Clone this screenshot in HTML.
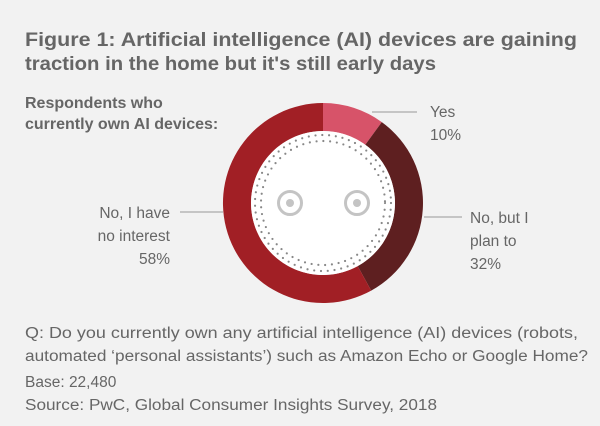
<!DOCTYPE html>
<html><head><meta charset="utf-8"><style>
body{margin:0;background:#f2f2f2}
svg{display:block}
text{font-family:"Liberation Sans",Arial,sans-serif;fill:#666}
</style></head><body>
<svg width="600" height="426" viewBox="0 0 600 426">
<rect width="600" height="426" fill="#f2f2f2"/>
<text x="25" y="46" font-size="19.5" font-weight="bold" textLength="552" lengthAdjust="spacingAndGlyphs">Figure 1: Artificial intelligence (AI) devices are gaining</text>
<text x="25" y="70" font-size="19.5" font-weight="bold" textLength="411" lengthAdjust="spacingAndGlyphs">traction in the home but it's still early days</text>
<text x="25" y="108" font-size="16" font-weight="bold">Respondents who</text>
<text x="25" y="129" font-size="16" font-weight="bold">currently own AI devices:</text>
<g transform="translate(323,203)">
<path d="M0,-100 A100,100 0 0 1 58.8,-80.9 L42.3,-58.2 A72,72 0 0 0 0,-72 Z" fill="#d75369"/>
<path d="M58.8,-80.9 A100,100 0 0 1 48.2,87.6 L34.7,63.1 A72,72 0 0 0 42.3,-58.2 Z" fill="#5e1f20"/>
<path d="M48.2,87.6 A100,100 0 1 1 0,-100 L0,-72 A72,72 0 1 0 34.7,63.1 Z" fill="#a11f25"/>
<circle r="72" fill="#fff"/>
<circle r="68" fill="none" stroke="#888" stroke-width="2.2" stroke-dasharray="0 6.8" stroke-linecap="round"/>
<circle r="62" fill="none" stroke="#888" stroke-width="2.2" stroke-dasharray="0 6.8" stroke-linecap="round"/>
<circle cx="-33" r="11.5" fill="none" stroke="#c4c4c4" stroke-width="3"/>
<circle cx="-33" r="4" fill="#c4c4c4"/>
<circle cx="34" r="11.5" fill="none" stroke="#c4c4c4" stroke-width="3"/>
<circle cx="34" r="4" fill="#c4c4c4"/>
</g>
<g stroke="#aaa" stroke-width="1.2">
<line x1="372" y1="112" x2="417" y2="112"/>
<line x1="424" y1="217" x2="462" y2="217"/>
<line x1="180" y1="212" x2="223" y2="212"/>
</g>
<g font-size="15.5">
<text x="430" y="117">Yes</text>
<text x="430" y="140">10%</text>
<text x="470" y="223">No, but I</text>
<text x="470" y="246">plan to</text>
<text x="470" y="269">32%</text>
<text x="170" y="218" text-anchor="end">No, I have</text>
<text x="170" y="241" text-anchor="end">no interest</text>
<text x="170" y="264" text-anchor="end">58%</text>
<text x="25" y="338" textLength="553" lengthAdjust="spacingAndGlyphs">Q: Do you currently own any artificial intelligence (AI) devices (robots,</text>
<text x="25" y="361" textLength="563" lengthAdjust="spacingAndGlyphs">automated ‘personal assistants’) such as Amazon Echo or Google Home?</text>
<text x="25" y="387">Base: 22,480</text>
<text x="25" y="410" textLength="412" lengthAdjust="spacingAndGlyphs">Source: PwC, Global Consumer Insights Survey, 2018</text>
</g>
</svg>
</body></html>
